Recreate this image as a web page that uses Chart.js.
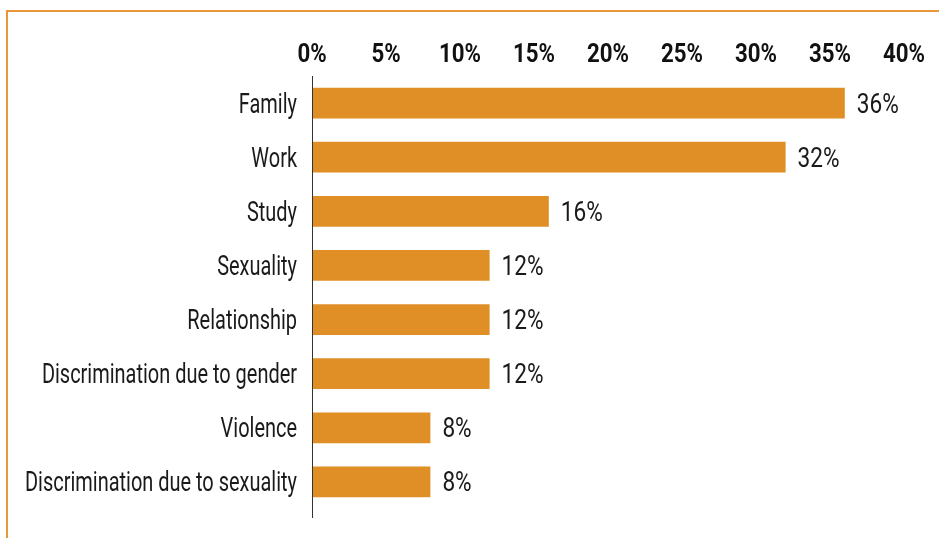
<!DOCTYPE html>
<html>
<head>
<meta charset="utf-8">
<script src="https://cdn.jsdelivr.net/npm/chart.js@4"></script>
<style>
  html, body { margin: 0; padding: 0; background: #fff; }
  #wrap { position: relative; width: 939px; height: 538px; }
  #frame { position: absolute; left: 6px; top: 10px; width: 940px; height: 540px;
           border-top: 2px solid #E8973A; border-left: 2px solid #E8973A; box-sizing: border-box; }
  canvas { position: absolute; left: 0; top: 0; }
</style>
</head>
<body>
<div id="wrap">
  <div id="frame"></div>
  <canvas id="c" width="939" height="538"></canvas>
</div>
<script>
const categories = ["Family", "Work", "Study", "Sexuality", "Relationship",
  "Discrimination due to gender", "Violence", "Discrimination due to sexuality"];
const values = [36, 32, 16, 12, 12, 12, 8, 8];
const valueLabels = ["36%", "32%", "16%", "12%", "12%", "12%", "8%", "8%"];
const xTicks = [0, 5, 10, 15, 20, 25, 30, 35, 40];

const FONT = "Roboto, 'Liberation Sans', sans-serif";
const BAR = "#E08E26";

// draw horizontally condensed text
function condensedText(ctx, text, x, y, align, sx) {
  ctx.save();
  ctx.translate(x, y);
  ctx.scale(sx, 1);
  ctx.textAlign = align;
  ctx.textBaseline = "alphabetic";
  ctx.fillText(text, 0, 0);
  ctx.restore();
}

const textPlugin = {
  id: 'condensedLabels',
  afterDatasetsDraw(chart) {
    const ctx = chart.ctx;
    const xs = chart.scales.x, ys = chart.scales.y;
    const area = chart.chartArea;
    ctx.save();

    // category labels (regular, condensed)
    ctx.font = "27px " + FONT;
    const catScale = 272 / ctx.measureText("Discrimination due to sexuality").width;
    ctx.fillStyle = "#1a1a1a";
    categories.forEach((c, i) => {
      condensedText(ctx, c, area.left - 15, ys.getPixelForValue(i) + 9.5, "right", catScale);
    });

    // value labels
    const valScale = 42 / ctx.measureText("36%").width;
    values.forEach((v, i) => {
      condensedText(ctx, valueLabels[i], xs.getPixelForValue(v) + 12, ys.getPixelForValue(i) + 9.5, "left", valScale);
    });

    // x tick labels (bold, condensed)
    ctx.font = "bold 25px " + FONT;
    const tickScale = 42 / ctx.measureText("40%").width;
    ctx.fillStyle = "#111";
    xTicks.forEach(t => {
      condensedText(ctx, t + "%", xs.getPixelForValue(t), area.top - 14, "center", tickScale);
    });

    // vertical axis line
    const x0 = Math.round(xs.getPixelForValue(0)) + 0.5;
    ctx.strokeStyle = "#333";
    ctx.lineWidth = 1;
    ctx.beginPath();
    ctx.moveTo(x0, area.top);
    ctx.lineTo(x0, area.bottom + 9);
    ctx.stroke();
    ctx.restore();
  }
};

new Chart(document.getElementById('c'), {
  type: 'bar',
  data: {
    labels: categories,
    datasets: [{
      data: values,
      backgroundColor: BAR,
      borderWidth: 0,
      barPercentage: 0.57,
      categoryPercentage: 1.0
    }]
  },
  options: {
    indexAxis: 'y',
    responsive: false,
    animation: false,
    devicePixelRatio: 1,
    layout: { padding: { left: 0, top: 0, right: 35, bottom: 29 } },
    plugins: { legend: { display: false }, tooltip: { enabled: false } },
    scales: {
      x: {
        position: 'top',
        min: 0, max: 40,
        afterBuildTicks(scale) { scale.ticks = xTicks.map(v => ({ value: v })); },
        afterFit(scale) { scale.height = 76; },
        grid: { display: false, drawTicks: false },
        border: { display: false },
        ticks: { display: false }
      },
      y: {
        afterFit(scale) { scale.width = 312; },
        grid: { display: false, drawTicks: false },
        border: { display: false },
        ticks: { display: false }
      }
    }
  },
  plugins: [textPlugin]
});
</script>
</body>
</html>
